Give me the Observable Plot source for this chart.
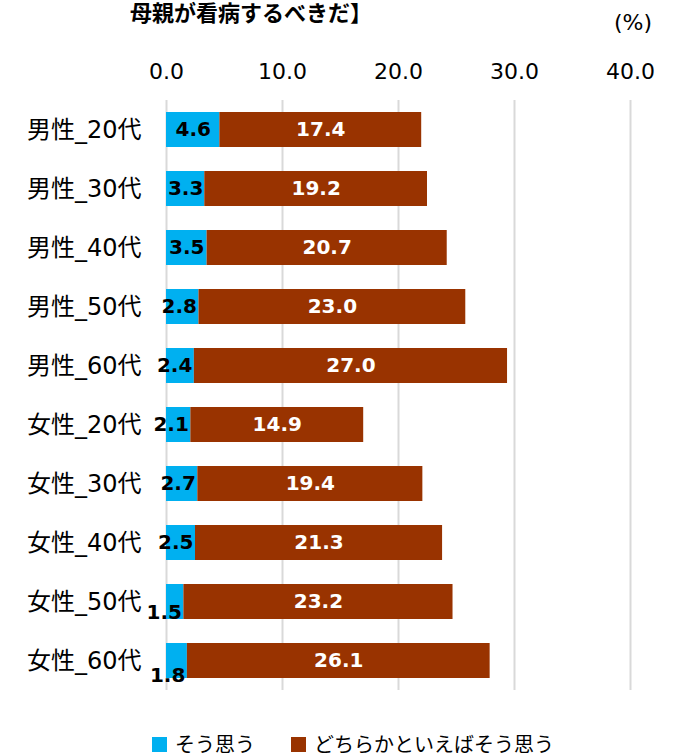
<!DOCTYPE html>
<html>
<head>
<meta charset="utf-8">
<script src="https://cdn.jsdelivr.net/npm/d3@7"></script>
<script src="https://cdn.jsdelivr.net/npm/@observablehq/plot@0.6"></script>
<style>
  html, body { margin: 0; padding: 0; background: #fff; }
  #wrap { position: relative; width: 676px; height: 755px; overflow: hidden; font-family: "DejaVu Sans", "Noto Sans CJK JP", sans-serif; }
  #chart { position: absolute; left: 0; top: 0; }
  #title { position: absolute; left: 130px; top: 0px; font: bold 22px/22px "Noto Sans CJK JP", sans-serif; color: #000; white-space: nowrap; }
  #unit { position: absolute; left: 614px; top: 10px; font: 22px/26px "DejaVu Sans", "Noto Sans CJK JP", sans-serif; color: #000; }
  #legend { position: absolute; left: 152px; top: 734px; font: 20px/20px "Noto Sans CJK JP", sans-serif; color: #000; display: flex; align-items: center; white-space: nowrap; }
  .sw { display: inline-block; width: 15px; height: 15px; margin-right: 8px; }
  .item { display: flex; align-items: center; margin-right: 36px; }
</style>
</head>
<body>
<div id="wrap">
  <div id="title">母親が看病するべきだ】</div>
  <div id="unit">(%)</div>
  <div id="chart"></div>
  <div id="legend"></div>
</div>
<script>
// ---- data ----
const categories = ["男性_20代","男性_30代","男性_40代","男性_50代","男性_60代","女性_20代","女性_30代","女性_40代","女性_50代","女性_60代"];
const seriesNames = ["そう思う", "どちらかといえばそう思う"];
const soOmou = [4.6, 3.3, 3.5, 2.8, 2.4, 2.1, 2.7, 2.5, 1.5, 1.8];
const dochiraka = [17.4, 19.2, 20.7, 23.0, 27.0, 14.9, 19.4, 21.3, 23.2, 26.1];
const xTicks = [0, 10, 20, 30, 40];

// ---- style / layout constants ----
const colors = ["#00B0F0", "#993300"];
const blueLabelDy = [0, 0, 0, 0, 0, 0, 0, 0, 11, 15]; // manual label nudges (px) as in the original
const font = "'DejaVu Sans', 'Noto Sans CJK JP', sans-serif";

// ---- build table ----
const rows = [];
categories.forEach((c, i) => {
  const a = soOmou[i], b = dochiraka[i];
  rows.push({cat: c, series: seriesNames[0], value: a, start: 0, end: a, idx: i});
  rows.push({cat: c, series: seriesNames[1], value: b, start: a, end: a + b, idx: i});
});
const blue = rows.filter(d => d.series === seriesNames[0]);
const brown = rows.filter(d => d.series === seriesNames[1]);

const labelStyle = {fontFamily: font, fontSize: 20, fontWeight: "bold"};
const blueCentered = blue.filter(d => d.value >= 3);
const blueEnd = blue.filter(d => d.value < 3);
const dyGroups = Array.from(new Set(blueLabelDy));

const marks = [
  Plot.ruleX(xTicks, {stroke: "#d9d9d9", strokeWidth: 2}),
  Plot.barX(rows, Plot.stackX({x: "value", y: "cat", fill: "series"})),
  Plot.text(brown, {x: d => (d.start + d.end) / 2, y: "cat", text: d => d.value.toFixed(1), fill: "white", ...labelStyle}),
  Plot.text(blueCentered, {x: d => (d.start + d.end) / 2, y: "cat", text: d => d.value.toFixed(1), fill: "black", ...labelStyle}),
  ...dyGroups.map(dy => Plot.text(blueEnd.filter(d => blueLabelDy[d.idx] === dy), {x: "end", y: "cat", text: d => d.value.toFixed(1), fill: "black", textAnchor: "end", dx: -2, dy, ...labelStyle})),
  Plot.axisX({anchor: "top", ticks: xTicks, tickSize: 0, tickPadding: 22, tickFormat: d => d.toFixed(1), fontSize: 22, fontFamily: font, label: null, color: "#000"}),
  Plot.axisY({tickSize: 0, tickPadding: 25, fontSize: 24, fontFamily: font, label: null, color: "#000"})
];

const chart = Plot.plot({
  width: 676,
  height: 700,
  marginTop: 100,
  marginBottom: 10,
  marginLeft: 166,
  marginRight: 46,
  style: {background: "transparent", color: "#000", overflow: "visible"},
  x: {domain: [0, 40], axis: null},
  y: {domain: categories, paddingInner: 0.41, paddingOuter: 0.205, axis: null},
  color: {domain: seriesNames, range: colors},
  marks
});
document.getElementById("chart").appendChild(chart);

// legend
const legend = document.getElementById("legend");
seriesNames.forEach((s, i) => {
  const item = document.createElement("span");
  item.className = "item";
  const sw = document.createElement("span");
  sw.className = "sw";
  sw.style.background = colors[i];
  item.appendChild(sw);
  item.appendChild(document.createTextNode(s));
  legend.appendChild(item);
});
</script>
</body>
</html>
